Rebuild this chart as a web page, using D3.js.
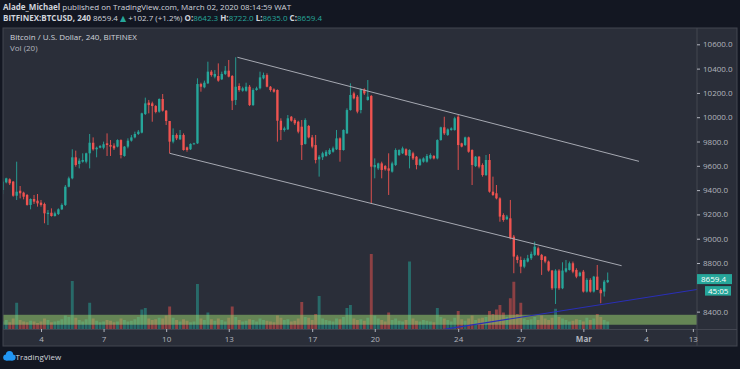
<!DOCTYPE html>
<html><head><meta charset="utf-8">
<script src="https://cdn.jsdelivr.net/npm/d3@7"></script>
<style>
html,body{margin:0;padding:0;background:#131722;}
svg{display:block;}
text{font-family:"Open Sans","DejaVu Sans",sans-serif;}
</style></head><body>
<svg id="c" width="740" height="369"></svg>
<script>
// ---------- DATA ----------
const firstCandle = "2020-02-02T04:00:00Z";   // 4h candles, BITFINEX:BTCUSD
const candleHours = 4;
const opens = [9401,9464,9489,9470,9354,9395,9379,9360,9278,9327,9313,9297,9286,9203,9214,9187,9203,9242,9278,9428,
9497,9670,9615,9634,9634,9703,9790,9736,9749,9749,9785,9771,9766,9758,9812,9681,9758,9807,9834,9862,
9873,10026,10120,10114,10092,10046,10150,10054,9969,9799,9854,9818,9854,9752,9736,9780,9785,10273,10246,10279,
10375,10334,10339,10312,10356,10383,10339,10142,10257,10218,10218,10251,10100,10224,10238,10320,10347,10251,10229,10224,
9971,9895,9900,10004,9977,9963,9922,9780,9928,9834,9771,9653,9670,9681,9697,9716,9736,9826,9730,9867,
10059,10196,10169,10059,10229,10142,10175,9588,9579,9620,9598,9579,9552,9607,9689,9703,9736,9681,9703,9675,
9607,9634,9634,9661,9681,9661,9812,9917,9854,9895,9895,10004,9785,9771,9834,9730,9598,9675,9607,9524,
9648,9387,9374,9332,9195,9160,9168,9017,8853,8825,8770,8812,8839,8867,8921,8867,8853,8812,8738,8592,
8738,8592,8729,8743,8798,8743,8694,8729,8565,8661,8565,8688,8579,8565,8642.3];
const highs = [9497,9502,9497,9475,9634,9434,9387,9368,9332,9360,9368,9319,9297,9236,9250,9223,9250,9291,9442,9511,
9736,9725,9661,9703,9708,9862,9834,9758,9771,9799,9867,9812,9785,9818,9818,9763,9826,9854,9881,9895,
10037,10161,10142,10128,10100,10155,10191,10059,9969,9908,9867,9895,9867,9758,9785,9790,10320,10284,10301,10457,
10388,10388,10443,10375,10421,10471,10347,10493,10279,10251,10284,10265,10238,10251,10375,10367,10361,10257,10238,10229,
9991,9922,10018,10010,9991,9971,9977,9991,9936,9854,9854,9689,9716,9730,9744,9758,9895,9834,9900,10073,
10279,10210,10183,10238,10238,10306,10183,9661,9626,9634,9607,9703,9634,9744,9736,9758,9744,9736,9716,9681,
9661,9670,9697,9703,9689,9818,9922,10004,9908,9917,10004,10018,9790,9840,9840,9736,9681,9681,9620,9689,
9697,9511,9442,9341,9209,9196,9319,9031,8867,8853,8839,8867,8894,8976,8935,8875,8858,8820,8743,8749,
8749,8806,8825,8812,8812,8757,8729,8743,8675,8675,8694,8784,8592,8661,8722];
const lows = [9368,9456,9442,9346,9319,9332,9324,9272,9242,9286,9264,9264,9127,9113,9182,9182,9195,9236,9269,9423,
9489,9593,9579,9626,9620,9579,9725,9670,9744,9736,9681,9681,9730,9752,9661,9675,9744,9799,9826,9854,
9867,10018,10032,9963,10032,10037,10046,9936,9703,9785,9812,9812,9725,9716,9730,9775,9780,10210,10238,10273,
10334,10320,10292,10306,10347,10328,10059,10100,10210,10210,10210,10092,10092,10218,10229,10312,10246,10210,10202,9799,
9812,9881,9895,9963,9936,9867,9648,9775,9826,9744,9620,9511,9648,9675,9689,9708,9730,9634,9725,9862,
10054,10147,10032,10032,10183,10136,9291,9497,9566,9497,9560,9360,9544,9598,9681,9697,9681,9579,9648,9571,
9598,9626,9626,9653,9653,9653,9807,9854,9846,9889,9889,9566,9752,9763,9708,9442,9590,9579,9511,9516,
9379,9352,9324,9140,9140,9155,8995,8716,8798,8716,8757,8805,8825,8858,8858,8702,8798,8729,8579,8463,
8579,8585,8721,8738,8716,8675,8688,8557,8557,8557,8557,8579,8469,8524,8635];
const closes = [9470,9497,9456,9354,9387,9374,9346,9278,9327,9305,9291,9278,9209,9214,9187,9209,9242,9278,9428,9497,
9670,9607,9642,9648,9703,9790,9736,9749,9763,9777,9771,9758,9744,9812,9689,9758,9807,9834,9862,9881,
10032,10114,10100,10092,10043,10150,10054,9969,9799,9854,9826,9854,9730,9730,9780,9785,10273,10251,10284,10375,
10347,10356,10301,10356,10383,10334,10136,10251,10224,10238,10251,10100,10224,10238,10328,10347,10251,10224,10210,9971,
9895,9908,9991,9971,9950,9881,9771,9977,9834,9758,9648,9675,9703,9716,9730,9744,9826,9730,9895,10059,
10183,10155,10046,10229,10196,10169,9593,9607,9620,9566,9571,9560,9620,9730,9730,9744,9689,9730,9661,9607,
9653,9661,9681,9689,9661,9812,9917,9867,9900,9908,9991,9771,9758,9834,9716,9607,9675,9593,9524,9648,
9387,9360,9332,9182,9154,9182,9004,8853,8825,8770,8825,8839,8875,8935,8867,8825,8812,8738,8592,8738,
8592,8738,8757,8798,8729,8688,8721,8565,8661,8565,8688,8579,8551,8647,8659.4];
const volumes = [10,12,9,14,35,12,10,9,11,10, 8,10,14,12,9,10,11,13,18,16,
64,15,12,10,13,35,14,11,9,10, 12,11,9,10,14,12,10,11,13,16,
26,28,14,12,13,15,14,18,30,15, 12,10,13,11,9,10,60,14,12,22,
13,11,14,12,10,15,30,16,12,10, 11,13,12,10,14,12,11,10,9,18,
15,12,13,10,11,14,36,16,15,12, 20,44,14,12,11,10,14,13,16,28,
32,14,12,13,11,15,100,18,14,12, 10,22,12,14,11,10,12,90,14,11,
10,12,11,10,9,28,16,14,12,10, 15,24,13,11,14,18,12,14,15,16,
24,20,26,32,22,16,41,63,20,35, 14,12,13,16,12,18,14,12,15,27,
16,14,12,10,11,13,12,10,15,12, 14,20,16,12,10];

const priceTicks = [10600,10400,10200,10000,9800,9600,9400,9200,9000,8800,8400];
const dateTicks = ["2020-02-04T00:00Z","2020-02-07T00:00Z","2020-02-10T00:00Z","2020-02-13T00:00Z","2020-02-17T00:00Z",
  "2020-02-20T00:00Z","2020-02-24T00:00Z","2020-02-27T00:00Z","2020-03-01T00:00Z","2020-03-04T00:00Z","2020-03-06T06:00Z"];
const dateTickLabels = ["4","7","10","13","17","20","24","27","Mar","4","13"];

// drawings (date, price)
const channelUpper = [["2020-02-13T10:00Z",10493],["2020-03-03T16:00Z",9637]];
const channelLower = [["2020-02-10T04:00Z",9703],["2020-03-02T20:00Z",8778]];
const blueTrend   = [["2020-02-23T03:00Z",8249],["2020-03-06T10:45Z",8582]];
const supportZone = [8292, 8374];

const lastPrice = 8659.4, countdown = "45:05";

// ---------- LAYOUT ----------
const P = {left:3, right:697, top:29, bottom:329, axisBottom:346, outerRight:737};
const svg = d3.select("#c");
const UP="#26a69a", DOWN="#ef5350", BG="#2a2e39", LINE="#434651", TXT="#b2b5be";

const t0 = new Date(firstCandle).getTime();
const candles = closes.map((c,i)=>({t:new Date(t0+i*candleHours*3600e3), o:opens[i], h:highs[i], l:lows[i], c, v:volumes[i]}));

const x = d3.scaleTime().domain([new Date("2020-02-02T04:17Z"), new Date("2020-03-06T10:45Z")]).range([P.left,P.right]);
const y = d3.scaleLinear().domain([8257,10726]).range([P.bottom,P.top]);
const yv = d3.scaleLinear().domain([0,100]).range([P.bottom,254]);
const cw = (x(new Date(t0+candleHours*3600e3))-x(new Date(t0)));
const bw = cw*0.68;

// panel
svg.append("rect").attr("x",P.left).attr("y",P.top-1).attr("width",P.outerRight-P.left).attr("height",P.axisBottom-P.top+1)
  .attr("fill",BG).attr("stroke",LINE).attr("stroke-width",1);

svg.append("clipPath").attr("id","plot").append("rect").attr("x",P.left+0.5).attr("y",P.top).attr("width",P.right-P.left-0.5).attr("height",P.bottom-P.top);
const g = svg.append("g").attr("clip-path","url(#plot)");

// volume
g.append("g").selectAll("rect").data(candles).join("rect")
  .attr("x",d=>x(d.t)-cw*0.42).attr("width",cw*0.84)
  .attr("y",d=>yv(d.v)).attr("height",d=>P.bottom-yv(d.v))
  .attr("fill",d=>d.c>=d.o?"rgba(38,166,154,0.5)":"rgba(239,83,80,0.5)");

// support zone
g.append("rect").attr("x",P.left).attr("width",P.right-P.left)
  .attr("y",y(supportZone[1])).attr("height",y(supportZone[0])-y(supportZone[1]))
  .attr("fill","rgba(150,205,110,0.55)");

// wicks
g.append("g").selectAll("line").data(candles).join("line")
  .attr("x1",d=>x(d.t)).attr("x2",d=>x(d.t)).attr("y1",d=>y(d.h)).attr("y2",d=>y(d.l))
  .attr("stroke",d=>d.c>=d.o?UP:DOWN).attr("stroke-width",0.9);
// bodies
g.append("g").selectAll("rect").data(candles).join("rect")
  .attr("x",d=>x(d.t)-bw/2).attr("width",bw)
  .attr("y",d=>y(Math.max(d.o,d.c))).attr("height",d=>Math.max(1,Math.abs(y(d.o)-y(d.c))))
  .attr("fill",d=>d.c>=d.o?UP:DOWN);

// drawings
const lineGen = d3.line().x(d=>x(new Date(d[0]))).y(d=>y(d[1]));
[channelUpper,channelLower].forEach(l=>g.append("path").attr("d",lineGen(l)).attr("fill","none").attr("stroke","#a6a9b2").attr("stroke-width",1));
g.append("path").attr("d",lineGen(blueTrend)).attr("fill","none").attr("stroke","#2a2fb8").attr("stroke-width",1.2);

// separators
svg.append("line").attr("x1",P.right).attr("x2",P.right).attr("y1",P.top-1).attr("y2",P.axisBottom).attr("stroke",LINE);
svg.append("line").attr("x1",P.left).attr("x2",P.outerRight).attr("y1",P.bottom+0.5).attr("y2",P.bottom+0.5).attr("stroke",LINE);

// axes
const ya = svg.append("g").attr("transform",`translate(${P.right},0)`)
  .call(d3.axisRight(y).tickValues(priceTicks).tickFormat(d=>d.toFixed(1)).tickSize(3).tickPadding(3));
ya.select(".domain").remove();
ya.selectAll("line").attr("stroke",TXT);
ya.selectAll("text").attr("fill",TXT).attr("font-size",8);

const xa = svg.append("g").attr("transform",`translate(0,${P.bottom})`)
  .call(d3.axisBottom(x).tickValues(dateTicks.map(d=>new Date(d))).tickFormat((d,i)=>dateTickLabels[i]).tickSize(3).tickPadding(4));
xa.select(".domain").remove();
xa.selectAll("line").attr("stroke",TXT);
xa.selectAll("text").attr("fill",TXT).attr("font-size",8).attr("font-weight",(d,i)=>dateTickLabels[i]==="Mar"?"bold":"normal");

// price label
const py = y(lastPrice);
svg.append("rect").attr("x",P.right).attr("y",py-6).attr("width",35).attr("height",10).attr("fill",UP);
svg.append("text").attr("x",P.right+4).attr("y",py+2).attr("fill","#fff").attr("font-size",8).text(lastPrice.toFixed(1));
svg.append("rect").attr("x",P.right+8).attr("y",py+6).attr("width",26).attr("height",9.5).attr("fill",UP);
svg.append("text").attr("x",P.right+11).attr("y",py+13.5).attr("fill","#fff").attr("font-size",8).text(countdown);

// header
const h1 = svg.append("text").attr("x",3).attr("y",10).attr("font-size",8).attr("fill","#d1d4dc");
h1.append("tspan").attr("font-weight","bold").text("Alade_Michael");
h1.append("tspan").text(" published on TradingView.com, March 02, 2020 08:14:59 WAT");
const h2 = svg.append("text").attr("x",3).attr("y",20.5).attr("font-size",8).attr("fill","#d1d4dc");
h2.append("tspan").attr("font-weight","bold").text("BITFINEX:BTCUSD, 240");
h2.append("tspan").text(" 8659.4 ");
h2.append("tspan").attr("fill",UP).text("▲");
h2.append("tspan").text(" +102.7 (+1.2%) ");
[["O:","8642.3"],["H:","8722.0"],["L:","8635.0"],["C:","8659.4"]].forEach(([k,v])=>{
  h2.append("tspan").attr("font-weight","bold").text(k);
  h2.append("tspan").attr("fill",UP).text(v+" ");
});
svg.append("text").attr("x",10).attr("y",40).attr("font-size",8).attr("fill","#d1d4dc").text("Bitcoin / U.S. Dollar, 240, BITFINEX");
svg.append("text").attr("x",10).attr("y",51).attr("font-size",8).attr("fill",TXT).text("Vol (20)");

// logo
const lg = svg.append("g").attr("transform","translate(3,350)").attr("fill","#2196f3");
lg.append("circle").attr("cx",6.5).attr("cy",4.5).attr("r",3.6);
lg.append("circle").attr("cx",3.2).attr("cy",7.5).attr("r",3);
lg.append("circle").attr("cx",9.6).attr("cy",7.6).attr("r",3);
lg.append("rect").attr("x",3.2).attr("y",6).attr("width",6.4).attr("height",4.6);
svg.append("text").attr("x",15.5).attr("y",360).attr("font-size",8).attr("fill","#d1d4dc").text("TradingView");
</script></body></html>
